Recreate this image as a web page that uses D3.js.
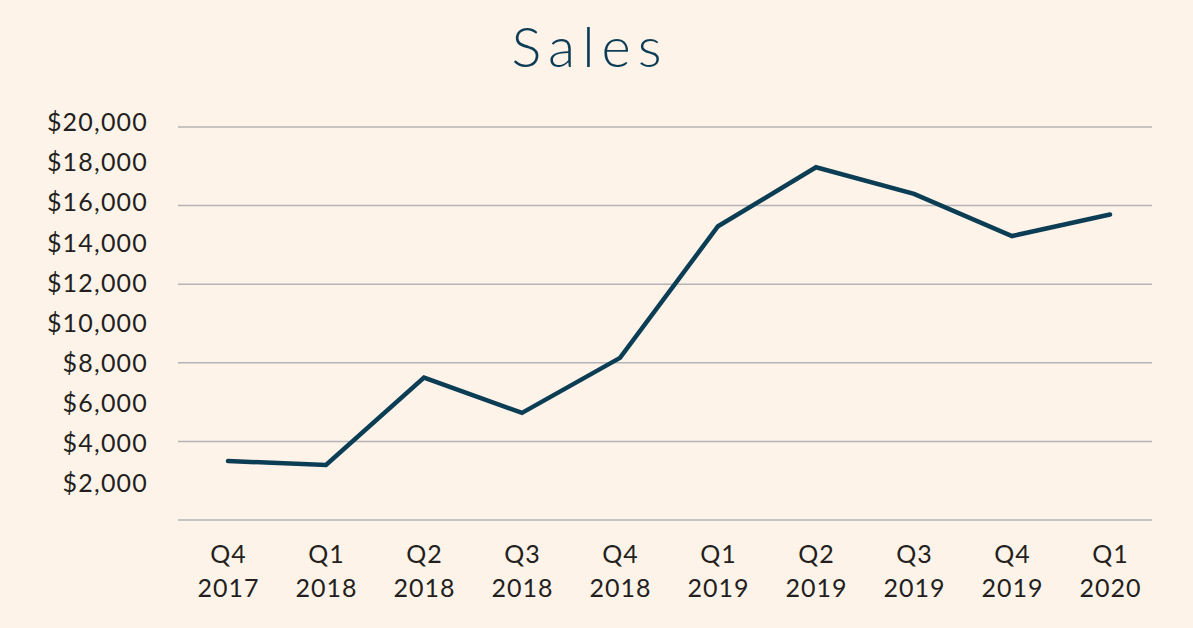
<!DOCTYPE html>
<html>
<head>
<meta charset="utf-8">
<script src="https://cdn.jsdelivr.net/npm/d3@7"></script>
<style>
  html, body { margin: 0; padding: 0; background: #fef3e8; }
  svg { display: block; }
</style>
</head>
<body>
<script>
const quarters = ["Q4", "Q1", "Q2", "Q3", "Q4", "Q1", "Q2", "Q3", "Q4", "Q1"];
const years = ["2017", "2018", "2018", "2018", "2018", "2019", "2019", "2019", "2019", "2020"];
const sales = [3000, 2800, 7250, 5450, 8250, 14950, 17950, 16600, 14450, 15550];
const gridValues = [0, 4000, 8000, 12000, 16000, 20000];
const yTickValues = [2000, 4000, 6000, 8000, 10000, 12000, 14000, 16000, 18000, 20000];
const title = "Sales";

const W = 1193, H = 628;
const svg = d3.select("body").append("svg").attr("width", W).attr("height", H);
svg.append("rect").attr("width", W).attr("height", H).attr("fill", "#fef3e8");

const cats = quarters.map((q, i) => q + " " + years[i]);
const x = d3.scalePoint().domain(cats).range([228, 1110]);
const y = d3.scaleLinear().domain([0, 20000]).range([520, 127]);
const yLabel = d3.scaleLinear().domain([2000, 20000]).range([483, 122]);

// title
svg.append("text")
  .attr("x", 590).attr("y", 67)
  .attr("text-anchor", "middle")
  .attr("font-family", "Lato, 'Open Sans', sans-serif")
  .attr("font-weight", 300)
  .attr("font-size", 56)
  .attr("letter-spacing", 7)
  .attr("fill", "#0d3d56")
  .text(title);

// gridlines
svg.append("g").selectAll("line").data(gridValues).join("line")
  .attr("x1", 178).attr("x2", 1152)
  .attr("y1", d => y(d)).attr("y2", d => y(d))
  .attr("stroke", "#b4b3b5").attr("stroke-width", 1.5);

// y labels
const yAxis = d3.axisLeft(yLabel).tickValues(yTickValues)
  .tickFormat(d => "$" + d3.format(",")(d)).tickSize(0).tickPadding(0);
const gy = svg.append("g").attr("transform", "translate(148,0)").call(yAxis);
gy.select(".domain").remove();
gy.selectAll("text")
  .attr("font-family", "Lato, 'Open Sans', sans-serif")
  .attr("font-size", 25)
  .attr("letter-spacing", 1.2)
  .attr("fill", "#231f20")
  .attr("dy", "0.35em");

// x labels
const xAxis = d3.axisBottom(x).tickSize(0).tickFormat(() => "");
const gx = svg.append("g").attr("transform", "translate(0,540)").call(xAxis);
gx.select(".domain").remove();
gx.selectAll(".tick text").remove();
gx.selectAll(".tick").each(function(d, i) {
  const t = d3.select(this).append("text")
    .attr("text-anchor", "middle")
    .attr("font-family", "Lato, 'Open Sans', sans-serif")
    .attr("font-size", 25)
    .attr("letter-spacing", 1)
    .attr("fill", "#231f20");
  t.append("tspan").attr("x", 0).attr("y", 23).text(quarters[i]);
  t.append("tspan").attr("x", 0).attr("y", 57).text(years[i]);
});

// line
const line = d3.line().x((d, i) => x(cats[i])).y(d => y(d));
svg.append("path").datum(sales)
  .attr("d", line)
  .attr("fill", "none")
  .attr("stroke", "#0b3d55")
  .attr("stroke-width", 4.5)
  .attr("stroke-linejoin", "miter")
  .attr("stroke-linecap", "round");
</script>
</body>
</html>
